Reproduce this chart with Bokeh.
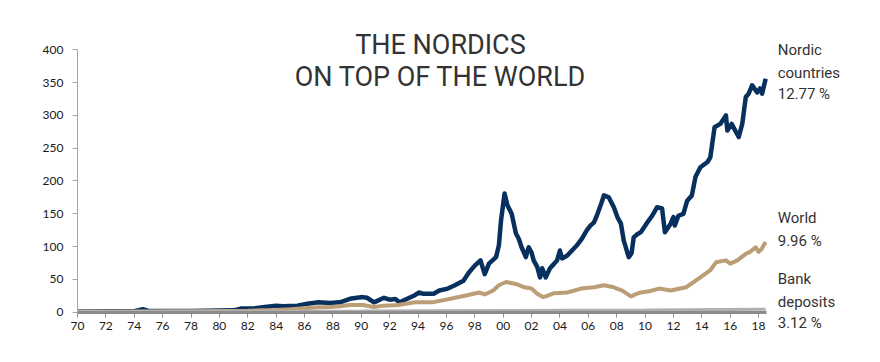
from bokeh.plotting import figure
from bokeh.models import Label, FixedTicker, Range1d
from bokeh.embed import file_html
from bokeh.resources import INLINE

# ---- data ----
nordic_t = [1970.0, 1971.0, 1972.0, 1973.0, 1974.0, 1974.6, 1975.0, 1976.0, 1977.0, 1978.0,
            1979.0, 1980.0, 1981.0, 1981.5, 1982.5, 1983.2, 1984.0, 1984.5, 1985.5, 1986.2,
            1987.0, 1987.8, 1988.5, 1989.3, 1990.1, 1990.4, 1990.9, 1991.6, 1992.0, 1992.4,
            1992.7, 1993.2, 1993.7, 1994.05, 1994.4, 1995.1, 1995.5, 1996.1, 1996.6, 1997.2,
            1997.6, 1998.0, 1998.4, 1998.7, 1999.0, 1999.5, 1999.7, 1999.85, 2000.1, 2000.3,
            2000.6, 2000.9, 2001.1, 2001.3, 2001.6, 2001.8, 2002.0, 2002.15, 2002.4, 2002.6,
            2002.75, 2003.0, 2003.3, 2003.6, 2003.8, 2004.0, 2004.15, 2004.5, 2004.85, 2005.2,
            2005.55, 2005.9, 2006.15, 2006.4, 2006.6, 2006.9, 2007.1, 2007.45, 2007.8, 2008.05,
            2008.3, 2008.5, 2008.85, 2009.05, 2009.2, 2009.4, 2009.7, 2010.1, 2010.5, 2010.85,
            2011.2, 2011.4, 2011.8, 2012.0, 2012.1, 2012.35, 2012.7, 2012.97, 2013.3, 2013.55,
            2013.9, 2014.4, 2014.6, 2014.9, 2015.3, 2015.7, 2015.8, 2016.1, 2016.6, 2016.85,
            2017.1, 2017.3, 2017.55, 2017.9, 2018.1, 2018.25, 2018.5]
nordic_v = [1.0, 1.1, 1.3, 1.5, 1.6, 4.5, 1.8, 1.9, 1.8, 2.0,
            2.2, 2.4, 2.8, 5.5, 6, 8, 10, 9, 10, 13,
            15, 14, 15, 21, 23, 22, 15, 22, 19, 20,
            15, 20, 25, 30, 28, 28, 33, 36, 41, 48,
            61, 71, 79, 58, 74, 84, 102, 140, 181, 163,
            150, 120, 112, 99, 84, 99, 91, 79, 69, 53,
            67, 53, 67, 74, 79, 94, 82, 86, 94, 102,
            112, 125, 132, 137, 147, 165, 178, 175, 160, 145,
            135, 109, 84, 90, 114, 118, 122, 135, 147, 160,
            158, 122, 135, 145, 132, 147, 150, 170, 178, 206,
            221, 229, 236, 282, 287, 300, 277, 287, 267, 287,
            328, 333, 346, 335, 341, 333, 356]

world_t = [1970.0, 1972.0, 1974.0, 1976.0, 1978.0, 1980.0, 1982.0, 1983.0, 1984.0, 1985.0,
           1986.0, 1987.0, 1987.8, 1988.5, 1989.2, 1990.1, 1990.9, 1991.6, 1992.6, 1993.8,
           1995.0, 1996.2, 1997.3, 1998.3, 1998.7, 1999.3, 1999.7, 2000.2, 2000.9, 2001.5,
           2002.0, 2002.4, 2002.8, 2003.1, 2003.6, 2004.5, 2005.5, 2006.4, 2007.1, 2007.8,
           2008.4, 2009.0, 2009.4, 2009.7, 2010.3, 2011.0, 2011.8, 2012.9, 2013.9, 2014.6,
           2015.0, 2015.7, 2016.0, 2016.5, 2017.1, 2017.4, 2017.8, 2018.0, 2018.2, 2018.5]
world_v = [1.0, 1.2, 1.1, 1.4, 1.6, 2.0, 2.3, 3.0, 3.5, 4.5,
           6.0, 7.5, 8, 9, 11, 11, 8, 10, 11, 15,
           15, 20, 25, 30, 27, 33, 41, 46, 43, 38,
           36, 28, 23, 25, 29, 30, 36, 38, 41, 38,
           33, 24, 28, 30, 32, 36, 33, 38, 53, 64,
           76, 79, 74, 79, 89, 92, 99, 92, 96, 107]

bank_t = [1970.0, 1980.0, 1990.0, 2000.0, 2010.0, 2018.5]
bank_v = [1.0, 1.4, 1.9, 2.6, 3.4, 4.4]

year_ticks = list(range(1970, 2019, 2))
year_labels = ["70", "72", "74", "76", "78", "80", "82", "84", "86", "88", "90", "92", "94",
               "96", "98", "00", "02", "04", "06", "08", "10", "12", "14", "16", "18"]
value_ticks = [0, 50, 100, 150, 200, 250, 300, 350, 400]

title_lines = ["THE NORDICS", "ON TOP OF THE WORLD"]
nordic_label = ["Nordic", "countries", "12.77 %"]
world_label = ["World", "9.96 %"]
bank_label = ["Bank", "deposits", "3.12 %"]

NAVY = "#08305e"
TAN = "#bb9d76"
GREY = "#b0b0b0"
TXT = "#333333"

p = figure(width=872, height=350, output_backend="svg", toolbar_location=None,
           x_range=Range1d(1964.574, 2026.03), y_range=Range1d(-58.4, 475.15),
           min_border_left=0, min_border_right=0, min_border_top=0, min_border_bottom=0)
p.outline_line_color = None
p.grid.visible = False
p.background_fill_color = "white"
p.border_fill_color = "white"

p.line(nordic_t, nordic_v, line_color=NAVY, line_width=4.5, line_join="round")
p.line(world_t, world_v, line_color=TAN, line_width=4, line_join="round")
p.line(bank_t, bank_v, line_color=GREY, line_width=3)

# axes
xa = p.xaxis[0]
xa.fixed_location = 0
xa.bounds = (1970, 2018.55)
xa.ticker = FixedTicker(ticks=year_ticks)
xa.major_label_overrides = {t: l for t, l in zip(year_ticks, year_labels)}
xa.axis_line_color = "#8c8c8c"
xa.axis_line_width = 3
xa.major_tick_line_color = "#8c8c8c"
xa.major_tick_out = 5
xa.major_tick_in = 0
xa.minor_tick_line_color = None
xa.major_label_text_font = "Lato"
xa.major_label_text_font_size = "12px"
xa.major_label_text_color = "#1a1a1a"
xa.major_label_standoff = 5

ya = p.yaxis[0]
ya.fixed_location = 1970
ya.bounds = (0, 400)
ya.ticker = FixedTicker(ticks=value_ticks)
ya.axis_line_color = "#a6a6a6"
ya.major_tick_line_color = "#a6a6a6"
ya.major_tick_out = 5
ya.major_tick_in = 0
ya.minor_tick_line_color = None
ya.major_label_text_font = "Lato"
ya.major_label_text_font_size = "12px"
ya.major_label_text_color = "#1a1a1a"
ya.major_label_standoff = 9

# title
for txt, yv in zip(title_lines, [408, 358]):
    p.add_layout(Label(x=1995.58, y=yv, text=txt, text_align="center", text_baseline="middle",
                       text_font="Roboto", text_font_size="27px", text_color=TXT))

# end labels
def side(lines, ys):
    for txt, yv in zip(lines, ys):
        p.add_layout(Label(x=2019.35, y=yv, text=txt, text_align="left", text_baseline="middle",
                           text_font="Roboto", text_font_size="15px", text_color=TXT))

side(nordic_label, [399, 365, 332])
side(world_label, [143, 109])
side(bank_label, [50, 16, -16])

open("out.html", "w").write(file_html(p, INLINE))
